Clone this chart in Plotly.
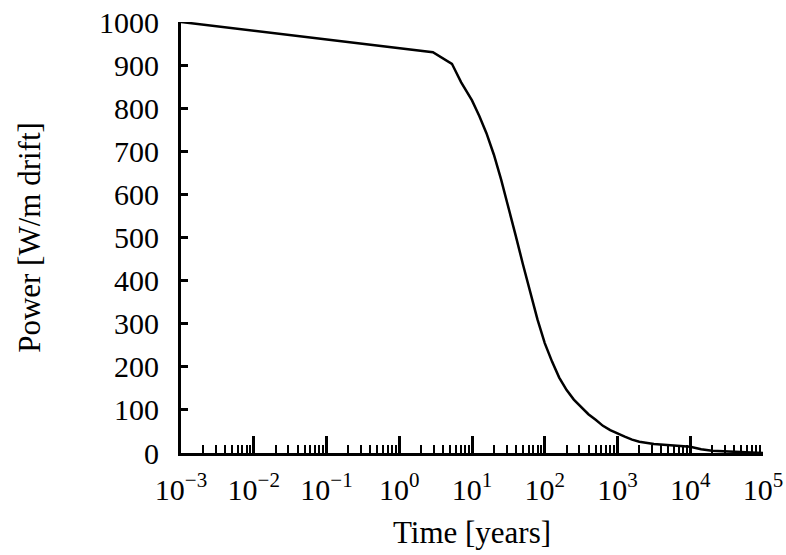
import plotly.graph_objects as go

# Data
time_years = [0.001, 2.9, 5.3, 7.1, 10, 12.6, 15.8, 20, 25.1, 31.6, 39.8, 50.1, 63.1,
              79.4, 100, 126, 158, 200, 251, 316, 398, 501, 631, 794, 1000, 1259,
              1585, 1995, 3162, 5012, 10000, 14125, 19953, 100000]
power_w_per_m = [1000, 930, 903, 860, 818, 782, 742, 692, 635, 572, 505, 438, 373,
                 310, 255, 212, 175, 146, 124, 106, 90, 77, 63, 53, 45, 38,
                 31, 26, 21, 18, 14.5, 8.6, 5, 0]

major_tick_vals = [1e-3, 1e-2, 1e-1, 1e0, 1e1, 1e2, 1e3, 1e4, 1e5]
major_tick_text = ["10<sup>\u22123</sup>", "10<sup>\u22122</sup>", "10<sup>\u22121</sup>",
                   "10<sup>0</sup>", "10<sup>1</sup>", "10<sup>2</sup>",
                   "10<sup>3</sup>", "10<sup>4</sup>", "10<sup>5</sup>"]
minor_tick_vals = [k * 10.0 ** n for n in range(-3, 5) for k in range(2, 10)]

font_family = "Liberation Serif, Times New Roman, serif"

fig = go.Figure()
fig.add_trace(go.Scatter(
    x=time_years, y=power_w_per_m, mode="lines",
    line=dict(color="black", width=2.5),
    showlegend=False,
))

fig.update_layout(
    width=786, height=555,
    margin=dict(l=181, r=23, t=22, b=102, autoexpand=False),
    paper_bgcolor="white", plot_bgcolor="white",
    font=dict(family=font_family, size=30, color="black"),
)

fig.update_xaxes(
    type="log", range=[-3, 5], automargin=False,
    tickmode="array", tickvals=major_tick_vals, ticktext=major_tick_text,
    ticks="inside", ticklen=17, tickwidth=2.5, tickcolor="black",
    showline=True, linecolor="black", linewidth=3,
    showgrid=False, zeroline=False, ticklabeloverflow="allow",
    tickfont=dict(size=30), ticklabelstandoff=8,
    minor=dict(tickmode="array", tickvals=minor_tick_vals, ticks="inside",
               ticklen=8, tickwidth=2, tickcolor="black", showgrid=False),
    title=dict(text="Time [years]", font=dict(size=31), standoff=17),
)

fig.update_yaxes(
    range=[0, 1000], tickmode="linear", tick0=0, dtick=100, automargin=False,
    ticks="inside", ticklen=7, tickwidth=2.5, tickcolor="black",
    showline=True, linecolor="black", linewidth=3,
    showgrid=False, zeroline=False, ticklabeloverflow="allow",
    tickfont=dict(size=30), ticklabelstandoff=13,
    title=dict(text="Power [W/m drift]", font=dict(size=31), standoff=50),
)

fig.write_html("out.html", config={"displayModeBar": False},
               post_script="document.body.style.margin = '0';")
